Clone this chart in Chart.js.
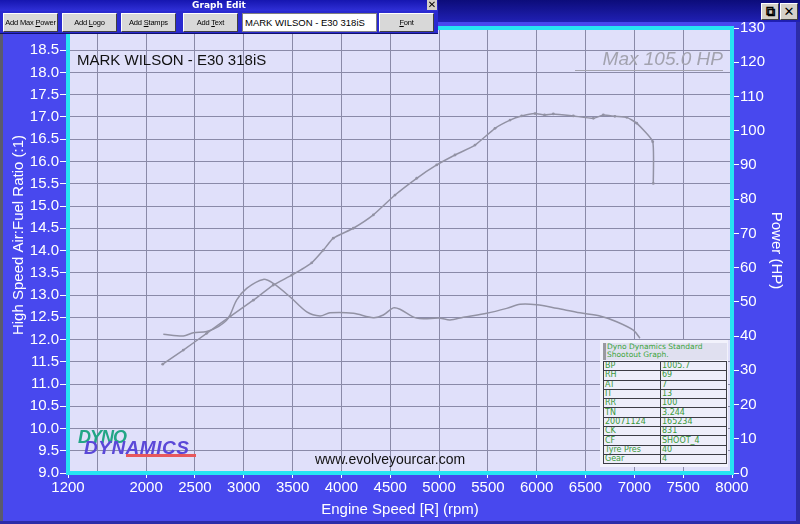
<!DOCTYPE html>
<html>
<head>
<meta charset="utf-8">
<title>Dyno graph</title>
<script src="https://cdn.jsdelivr.net/npm/chart.js@4.4.1/dist/chart.umd.min.js"></script>
<style>
  body { margin: 0; background: #4848ee; }
  #wrap { position: relative; width: 800px; height: 524px; overflow: hidden; font-family: "Liberation Sans", Arial, sans-serif; background: #4848ee; }
  #dyno { position: absolute; left: 0; top: 0; }
  .abs { position: absolute; }
  #winbar { left: 0; top: 0; width: 800px; height: 22px; background: linear-gradient(#0c0c7a, #2020b4); }
  .winbtn { top: 3px; width: 16px; height: 15px; background: #d4d0c8; border: 1px solid #fff; border-right-color: #404040; border-bottom-color: #404040; font: bold 13px/15px "DejaVu Sans", sans-serif; text-align: center; color: #000; }
  #edgeL { left: 0; top: 0; width: 3px; height: 524px; background: #5a5a6e; }
  #edgeR { left: 796px; top: 22px; width: 4px; height: 502px; background: #2c2ca8; }
  #edgeB { left: 0; top: 521px; width: 800px; height: 3px; background: #2c2ca8; }
  #dlg { left: 0; top: 0; width: 438px; height: 33px; background: #2a2ad0; border-bottom: 1px solid #10106a; }
  #dlgTitle { left: 0; top: 0; width: 438px; height: 11px; background: linear-gradient(#1616b0, #3030d8); color: #fff; font: bold 9px/11px "DejaVu Sans", sans-serif; text-align: center; }
  #dlgX { left: 427px; top: 0; width: 10px; height: 10px; background: #d4d0c8; font: bold 10px/10px "DejaVu Sans", sans-serif; text-align: center; color: #000; }
  .btn { top: 13px; height: 17px; background: #d8d8d8; border: 1px solid #fff; border-right-color: #404040; border-bottom-color: #404040; font: 7.5px/17px "Liberation Sans", Arial, sans-serif; letter-spacing: -0.2px; text-align: center; color: #000; white-space: nowrap; overflow: hidden; }
  #txtIn { left: 242px; top: 13px; width: 131px; height: 17px; background: #fff; border: 1px solid #808080; font: 9.5px/17px "Liberation Sans", Arial, sans-serif; color: #000; padding-left: 2px; white-space: nowrap; }
  #name { left: 77px; top: 51px; font-size: 15px; color: #111; white-space: nowrap; }
  #maxhp { left: 575px; top: 48px; width: 148px; font-size: 19px; font-style: italic; color: #a2a2ae; text-align: right; border-bottom: 1px solid #a2a2ae; line-height: 22px; white-space: nowrap; }
  #web { left: 315px; top: 451px; font-size: 14px; color: #111; white-space: nowrap; }
  #logo { left: 76px; top: 427px; width: 125px; height: 32px; font-style: italic; font-weight: bold; }
  #logo .a { position: absolute; left: 2px; top: 0; font-size: 18px; color: #22a686; letter-spacing: -1px; }
  #logo .b { position: absolute; left: 8px; top: 10px; font-size: 19px; color: #5a48d8; letter-spacing: 0.5px; }
  #logo .c { position: absolute; left: 50px; top: 27px; width: 70px; height: 3px; background: #e8585c; }
  #stamp { left: 600px; top: 340px; width: 128px; height: 127px; background: #f2f2fc; }
  #stamp .head { position: absolute; left: 3px; top: 3px; width: 120px; height: 17px; background: #e0e0f0; border-left: 3px solid #9a9aa0; color: #3aa43a; font: 7.5px/8px "DejaVu Sans", sans-serif; padding-left: 1px; }
  #stamp table { position: absolute; left: 3px; top: 21px; width: 124px; border-collapse: collapse; font: 8px/8px "DejaVu Sans", sans-serif; color: #3a9a3a; }
  #stamp td { border: 1px solid #3c3c44; height: 8.3px; padding: 0 1px; background: #eeeefa; white-space: nowrap; overflow: hidden; }
  #stamp td:first-child { width: 54px; }
</style>
</head>
<body>
<div id="wrap">
  <canvas id="dyno" width="800" height="524"></canvas>
  <div class="abs" id="edgeL"></div>
  <div class="abs" id="edgeR"></div>
  <div class="abs" id="edgeB"></div>
  <div class="abs" id="winbar"></div>
  <div class="abs winbtn" style="left:761px">&#x29C9;</div>
  <div class="abs winbtn" style="left:780px">&#x2715;</div>
  <div class="abs" id="dlg">
    <div class="abs" id="dlgTitle">Graph Edit</div>
    <div class="abs" id="dlgX">&#x2715;</div>
    <div class="abs btn" style="left:3px;width:53px">Add Max <u>P</u>ower</div>
    <div class="abs btn" style="left:62px;width:53px">Add <u>L</u>ogo</div>
    <div class="abs btn" style="left:121px;width:53px">Add <u>S</u>tamps</div>
    <div class="abs btn" style="left:183px;width:53px">Add <u>T</u>ext</div>
    <div class="abs" id="txtIn">MARK WILSON - E30 318iS</div>
    <div class="abs btn" style="left:379px;width:53px"><u>F</u>ont</div>
  </div>
  <div class="abs" id="name">MARK WILSON - E30 318iS</div>
  <div class="abs" id="maxhp">Max 105.0 HP</div>
  <div class="abs" id="logo"><span class="a">DYNO</span><span class="b">DYNAMICS</span><span class="c"></span></div>
  <div class="abs" id="web">www.evolveyourcar.com</div>
  <div class="abs" id="stamp">
    <div class="head">Dyno Dynamics Standard<br>Shootout Graph.</div>
    <table id="stampTable"></table>
  </div>
</div>
<script>
// engine speed (rpm) and power (HP)
const powerRpm = [2170, 2381, 2620, 2859, 3098, 3302, 3491, 3696, 3815, 3917, 4122, 4327, 4549, 4771, 4976, 5163, 5368, 5573, 5727, 5846, 5983, 6080, 6170, 6375, 6580, 6682, 6800, 6922, 7024, 7188, 7194];
const powerHp  = [31.8, 35.9, 40.8, 45.7, 50.5, 54.9, 57.8, 61.4, 65.1, 68.6, 71.5, 75.4, 81.2, 86.1, 90.0, 92.9, 95.8, 100.7, 103.1, 104.3, 105.0, 104.6, 104.9, 104.3, 103.6, 104.6, 104.2, 103.9, 102.2, 96.8, 84.6];

// engine speed (rpm) and air:fuel ratio
const afrRpm    = [2176, 2381, 2483, 2620, 2739, 2842, 2928, 3030, 3200, 3302, 3473, 3645, 3781, 3883, 4122, 4327, 4429, 4531, 4600, 4771, 5010, 5112, 5248, 5488, 5693, 5829, 6000, 6205, 6443, 6648, 6819, 6989, 7057];
const afrValues = [12.12, 12.08, 12.15, 12.18, 12.29, 12.48, 12.89, 13.15, 13.35, 13.26, 12.96, 12.62, 12.53, 12.60, 12.59, 12.49, 12.55, 12.71, 12.68, 12.48, 12.48, 12.44, 12.50, 12.59, 12.70, 12.79, 12.78, 12.70, 12.60, 12.53, 12.40, 12.21, 12.03];

// axis ticks
const rpmTicks = [1200, 1500, 2000, 2500, 3000, 3500, 4000, 4500, 5000, 5500, 6000, 6500, 7000, 7500, 8000];
const afrTicks = [9.0, 9.5, 10.0, 10.5, 11.0, 11.5, 12.0, 12.5, 13.0, 13.5, 14.0, 14.5, 15.0, 15.5, 16.0, 16.5, 17.0, 17.5, 18.0, 18.5, 19.0];
const hpTicks  = [0, 10, 20, 30, 40, 50, 60, 70, 80, 90, 100, 110, 120, 130];

// run stamp
const stampLabels = ["BP", "RH", "AT", "IT", "RR", "TN", "20071124", "CK", "CF", "Tyre Pres", "Gear"];
const stampValues = ["1005.7", "69", "7", "13", "100", "3.244", "165234", "831", "SHOOT_4", "40", "4"];

const stampTable = document.getElementById("stampTable");
stampLabels.forEach((label, i) => {
    const row = document.createElement("tr");
    row.innerHTML = `<td>${label}</td><td>${stampValues[i]}</td>`;
    stampTable.appendChild(row);
});

Chart.defaults.font.family = '"Liberation Sans", Arial, sans-serif';

const plotBg = {
    id: "plotBg",
    beforeDraw(chart) {
        const { ctx, chartArea: a } = chart;
        ctx.save();
        ctx.fillStyle = "#4848ee";
        ctx.fillRect(0, 0, chart.width, chart.height);
        ctx.fillStyle = "#e0e0fa";
        ctx.fillRect(a.left, a.top, a.right - a.left, a.bottom - a.top);
        ctx.restore();
    },
    beforeDatasetsDraw(chart) {
        const { ctx, chartArea: a } = chart;
        ctx.save();
        ctx.strokeStyle = "#26e4f2";
        ctx.lineWidth = 4;
        ctx.strokeRect(a.left, a.top, a.right - a.left, a.bottom - a.top);
        ctx.restore();
    },
    afterDraw(chart) {
        const { ctx } = chart;
        ctx.save();
        ctx.translate(19, 235);
        ctx.rotate(-Math.PI / 2);
        ctx.fillStyle = "#ffffff";
        ctx.font = '15px "Liberation Sans", Arial, sans-serif';
        ctx.textAlign = "center";
        ctx.textBaseline = "middle";
        ctx.fillText("High Speed Air:Fuel Ratio (:1)", 0, 0);
        ctx.restore();
    }
};

const lineGrey = "#9292a4";

new Chart(document.getElementById("dyno"), {
    type: "line",
    data: {
        datasets: [{
            label: "Power (HP)",
            data: powerRpm.map((r, i) => ({ x: r, y: powerHp[i] })),
            yAxisID: "yHp",
            borderColor: lineGrey,
            borderWidth: 1.5,
            pointRadius: 1.4,
            pointBorderWidth: 0,
            pointBackgroundColor: lineGrey,
            tension: 0.15
        }, {
            label: "Air:Fuel Ratio",
            data: afrRpm.map((r, i) => ({ x: r, y: afrValues[i] })),
            yAxisID: "yAfr",
            borderColor: lineGrey,
            borderWidth: 1.5,
            pointRadius: 0,
            tension: 0.3
        }]
    },
    options: {
        responsive: false,
        animation: false,
        devicePixelRatio: 1,
        layout: { padding: { top: 28, left: 0, right: 0, bottom: 0 } },
        plugins: { legend: { display: false }, tooltip: { enabled: false } },
        scales: {
            x: {
                type: "linear",
                min: 1200,
                max: 8000,
                afterBuildTicks: s => { s.ticks = rpmTicks.map(v => ({ value: v })); },
                afterFit: s => { s.height = 51; },
                ticks: {
                    color: "#ffffff",
                    font: { size: 15 },
                    padding: 1,
                    maxRotation: 0,
                    autoSkip: false,
                    callback: v => (v === 1500 ? "" : String(v))
                },
                grid: {
                    color: "#8a8aa8",
                    tickLength: 5,
                    tickColor: c => (c.tick && c.tick.value === 1500 ? "rgba(0,0,0,0)" : "#ffffff")
                },
                border: { display: false },
                title: {
                    display: true,
                    text: "Engine Speed [R] (rpm)",
                    color: "#ffffff",
                    font: { size: 15 },
                    padding: { top: 0, bottom: 5 }
                }
            },
            yAfr: {
                position: "left",
                min: 9,
                max: 19,
                afterBuildTicks: s => { s.ticks = afrTicks.map(v => ({ value: v })); },
                afterFit: s => { s.width = 68; },
                ticks: {
                    color: "#ffffff",
                    font: { size: 15 },
                    padding: 1,
                    callback: v => (v >= 19 ? "" : v.toFixed(1))
                },
                grid: { color: "#8a8aa8", tickLength: 8, tickColor: "#ffffff" },
                border: { display: false }
            },
            yHp: {
                position: "right",
                min: 0,
                max: 130,
                afterBuildTicks: s => { s.ticks = hpTicks.map(v => ({ value: v })); },
                afterFit: s => { s.width = 68; },
                ticks: { color: "#ffffff", font: { size: 15 }, padding: 1 },
                grid: { drawOnChartArea: false, tickLength: 7, tickColor: "#ffffff" },
                border: { display: false },
                title: {
                    display: true,
                    text: "Power (HP)",
                    color: "#ffffff",
                    font: { size: 15 },
                    padding: { top: 15, bottom: 0 }
                }
            }
        }
    },
    plugins: [plotBg]
});
</script>
</body>
</html>
